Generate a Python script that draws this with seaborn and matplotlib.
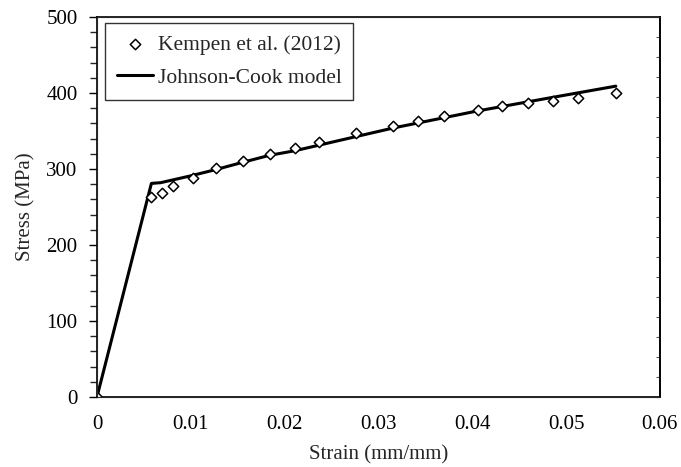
import numpy as np
import pandas as pd
import matplotlib
matplotlib.use("Agg")
import matplotlib.pyplot as plt
import seaborn as sns
from matplotlib.ticker import MultipleLocator

# experimental points (Kempen et al. 2012)
exp_strain = [0.0, 0.0058, 0.0069, 0.0081, 0.0102, 0.0127, 0.0156, 0.0184,
              0.0211, 0.0237, 0.0276, 0.0315, 0.0342, 0.0370, 0.0406,
              0.0432, 0.0459, 0.0486, 0.0513, 0.0553]
exp_stress = [0, 263, 268, 277, 288, 301, 311, 320,
              328, 335, 347, 357, 363, 370, 378,
              383, 387, 390, 393, 400]

# Johnson-Cook model curve
jc_strain = [0.0, 0.0058, 0.0068, 0.0100, 0.0126, 0.0156, 0.0184, 0.0211,
             0.0260, 0.0316, 0.0360, 0.0404, 0.0480, 0.0553]
jc_stress = [0, 281, 282, 291, 299, 309, 318, 324,
             338, 354, 365, 376, 393, 409]

xtick_labels = ["0", "0.01", "0.02", "0.03", "0.04", "0.05", "0.06"]

sns.set_style("white")
plt.rcParams["font.family"] = ["Liberation Serif", "DejaVu Serif"]

fig = plt.figure(figsize=(6.81, 4.67), dpi=100)
ax = fig.add_axes([0.1424, 0.15, 0.8266, 0.8136])

exp = pd.DataFrame({"strain": exp_strain, "stress": exp_stress})
jc = pd.DataFrame({"strain": jc_strain, "stress": jc_stress})

sns.lineplot(data=jc, x="strain", y="stress", color="black", linewidth=2.2,
             ax=ax, label="Johnson-Cook model", zorder=2)
sns.scatterplot(data=exp, x="strain", y="stress", marker="D", s=28,
                facecolor="white", edgecolor="black", linewidth=1.1,
                ax=ax, label="Kempen et al. (2012)", zorder=3)

ax.set_xlim(0, 0.06)
ax.set_ylim(0, 500)
ax.set_xticks([0, 0.01, 0.02, 0.03, 0.04, 0.05, 0.06])
ax.set_xticklabels(xtick_labels)
ax.xaxis.set_minor_locator(MultipleLocator(0.002))
ax.yaxis.set_major_locator(MultipleLocator(100))
ax.yaxis.set_minor_locator(MultipleLocator(20))

ax.tick_params(axis="x", which="both", direction="out", length=5, width=1,
               labelsize=15, pad=8, colors="black")
ax.tick_params(axis="y", which="major", direction="out", length=6, width=1,
               labelsize=15, pad=8, colors="black")
ax.tick_params(axis="y", which="minor", direction="out", length=5, width=1)
for s in ax.spines.values():
    s.set_color("black")
    s.set_linewidth(1.2)

# faint inward ticks along the right frame
ax2 = ax.twinx()
ax2.set_ylim(0, 500)
ax2.yaxis.set_major_locator(MultipleLocator(26.3))
ax2.tick_params(axis="y", direction="in", length=3, width=0.8,
                colors="#555555", labelright=False)
ax2.spines["right"].set_color("black")
ax2.spines["right"].set_linewidth(1.2)
ax2.grid(False)

ax.set_xlabel("Strain (mm/mm)", fontsize=15, labelpad=8)
ax.set_ylabel("Stress (MPa)", fontsize=15, labelpad=8)

h, l = ax.get_legend_handles_labels()
leg = ax.legend(h[::-1], l[::-1], loc="upper left", bbox_to_anchor=(0.014, 0.985),
                prop={"size": 15.5}, frameon=True, fancybox=False,
                edgecolor="black", handlelength=1.7, handletextpad=0.2,
                borderpad=0.55, labelspacing=0.62, borderaxespad=0)
leg.get_frame().set_linewidth(1.0)
leg._legend_box.align = "left"

fig.savefig("out.png", dpi=100)
